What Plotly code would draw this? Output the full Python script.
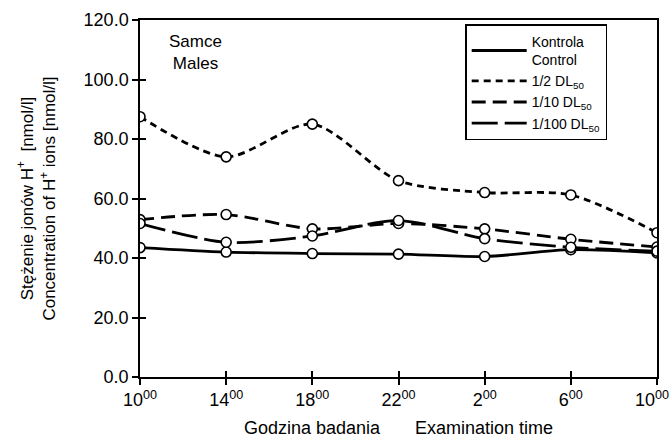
import plotly.graph_objects as go

times = ["10<sup>00</sup>", "14<sup>00</sup>", "18<sup>00</sup>", "22<sup>00</sup>",
         "2<sup>00</sup>", "6<sup>00</sup>", "10<sup>00</sup>&nbsp;&nbsp;"]
x_idx = list(range(len(times)))

kontrola = [43.5, 42.0, 41.5, 41.3, 40.5, 42.8, 41.7]
dl_half = [87.5, 74.0, 85.0, 66.0, 62.0, 61.2, 48.5]
dl_10 = [52.9, 54.6, 49.8, 51.6, 49.8, 46.3, 43.7]
dl_100 = [51.6, 45.3, 47.4, 52.6, 46.5, 43.6, 42.3]

y_ticks = [0, 20, 40, 60, 80, 100, 120]

series = [
    ("Kontrola<br>Control", kontrola, "solid", 2.8),
    ("1/2 DL<sub>50</sub>", dl_half, "7px,5px", 2.8),
    ("1/10 DL<sub>50</sub>", dl_10, "14px,7px", 2.8),
    ("1/100 DL<sub>50</sub>", dl_100, "26px,7px", 2.8),
]

fig = go.Figure()
for name, vals, dash, w in series:
    fig.add_trace(go.Scatter(x=x_idx, y=vals, mode="lines", name=name,
                             line=dict(color="black", width=w, dash=dash, shape="spline", smoothing=0.8)))
for name, vals, dash, w in series:
    fig.add_trace(go.Scatter(x=x_idx, y=vals, mode="markers", showlegend=False,
                             marker=dict(symbol="circle", size=10, color="white",
                                         line=dict(color="black", width=1.6))))

fig.update_layout(
    width=672, height=442,
    margin=dict(l=140, r=15, t=20, b=65),
    paper_bgcolor="white", plot_bgcolor="white",
    font=dict(family="Liberation Sans, Arial", size=17, color="black"),
    showlegend=True,
    legend=dict(x=0.629, y=0.988, xanchor="left", yanchor="top",
                bordercolor="black", borderwidth=1.5, bgcolor="white",
                font=dict(size=14, family="Liberation Sans, Arial"),
                tracegroupgap=0, itemwidth=55),
    xaxis=dict(range=[0, 6], tickmode="array", tickvals=x_idx, ticktext=times,
               showgrid=False, zeroline=False, showline=True, linecolor="black", linewidth=1.5,
               mirror=True, ticks="outside", ticklen=6, tickcolor="black", tickwidth=1.5,
               tickfont=dict(size=18), ticklabeloverflow="allow", automargin=False,
               title=dict(text="Godzina badania&nbsp;&nbsp;&nbsp;&nbsp;&nbsp;&nbsp;&nbsp;Examination time",
                          font=dict(size=18), standoff=12)),
    yaxis=dict(range=[0, 120], tickmode="array", tickvals=y_ticks,
               ticktext=[f"{v:.1f}" for v in y_ticks],
               showgrid=False, zeroline=False, showline=True, linecolor="black", linewidth=1.5,
               mirror=True, ticks="outside", ticklen=6, tickcolor="black", tickwidth=1.5,
               tickfont=dict(size=18), automargin=False,
               title=dict(text="Stężenie jonów H<sup>+</sup>  [nmol/l]<br>Concentration of H<sup>+</sup> ions [nmol/l]",
                          font=dict(size=17), standoff=24)),
    xaxis2=dict(range=[0, 6], overlaying="x", tickmode="array", tickvals=x_idx, ticktext=["" for _ in x_idx],
                ticks="inside", ticklen=6, tickwidth=1.5, tickcolor="black", showgrid=False,
                zeroline=False, showline=False, side="bottom", anchor="y", automargin=False),
    yaxis2=dict(range=[0, 120], overlaying="y", tickmode="array", tickvals=y_ticks,
                ticktext=["" for _ in y_ticks], ticks="inside", ticklen=6, tickwidth=1.5,
                tickcolor="black", showgrid=False, zeroline=False, showline=False, side="left", anchor="x",
                automargin=False),
)
fig.add_trace(go.Scatter(x=[0], y=[0], xaxis="x2", yaxis="y2", mode="markers",
                         marker=dict(opacity=0), showlegend=False, hoverinfo="skip"))

fig.add_annotation(text="Samce<br>Males", xref="paper", yref="paper", x=0.108, y=0.972,
                   xanchor="center", yanchor="top", showarrow=False, align="center",
                   font=dict(size=17, family="Liberation Sans, Arial", color="black"))

fig.write_html("out.html")
